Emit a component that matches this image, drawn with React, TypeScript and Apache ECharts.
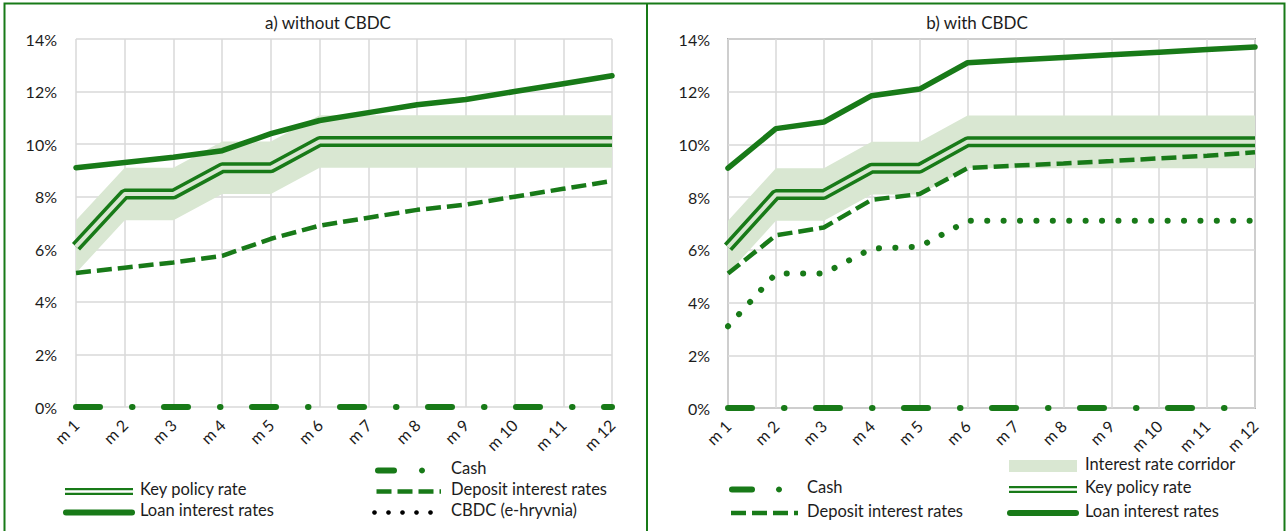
import React, { useEffect, useRef } from "react";
import * as echarts from "echarts";

const months = ["m 1", "m 2", "m 3", "m 4", "m 5", "m 6", "m 7", "m 8", "m 9", "m 10", "m 11", "m 12"];

// shared
const keyRate = [6.1, 8.1, 8.1, 9.1, 9.1, 10.1, 10.1, 10.1, 10.1, 10.1, 10.1, 10.1];
const corridorLow = [5.1, 7.1, 7.1, 8.1, 8.1, 9.1, 9.1, 9.1, 9.1, 9.1, 9.1, 9.1];
const corridorHigh = [7.1, 9.1, 9.1, 10.1, 10.1, 11.1, 11.1, 11.1, 11.1, 11.1, 11.1, 11.1];

// a) without CBDC
const loanA = [9.1, 9.3, 9.5, 9.75, 10.4, 10.9, 11.2, 11.5, 11.7, 12.0, 12.3, 12.6];
const depositA = [5.1, 5.3, 5.5, 5.75, 6.4, 6.9, 7.2, 7.5, 7.7, 8.0, 8.3, 8.6];
const cashA = [0, 0, 0, 0, 0, 0, 0, 0, 0, 0, 0, 0];

// b) with CBDC
const loanB = [9.1, 10.6, 10.85, 11.85, 12.1, 13.1, 13.2, 13.3, 13.4, 13.5, 13.6, 13.7];
const depositB = [5.1, 6.55, 6.85, 7.9, 8.12, 9.1, 9.2, 9.28, 9.37, 9.47, 9.57, 9.7];
const cbdcB = [3.1, 5.1, 5.1, 6.05, 6.12, 7.1, 7.1, 7.1, 7.1, 7.1, 7.1, 7.1];
const cashB = [0, 0, 0, 0, 0, 0, 0, 0, 0, 0, 0, 0];

const GREEN = "#187a18";
const CORR = "#d9e7d2";
const TEXT = "#1c1c1c";
const FONT = "Lato";
const LEG_FS = 16.5;

const CASH_DASH = [24, 32, 0.5, 31.5];
const DEP_DASH = [15, 6];
const DOT_DASH = [0.1, 16.3];

function panelSeries(idx: number, loan: number[], deposit: number[], cash: number[], cbdc: number[] | null) {
  const base = { xAxisIndex: idx, yAxisIndex: idx, type: "line", showSymbol: false, symbol: "none", silent: true };
  const band = corridorHigh.map((h, i) => +(h - corridorLow[i]).toFixed(4));
  const s: any[] = [
    { ...base, name: "corrBase" + idx, stack: "corr" + idx, data: corridorLow, lineStyle: { width: 0, opacity: 0 }, z: 1 },
    { ...base, name: "Interest rate corridor", stack: "corr" + idx, data: band, lineStyle: { width: 0, opacity: 0 }, areaStyle: { color: CORR, opacity: 1 }, z: 1 },
    { ...base, name: "Key policy rate", data: keyRate, lineStyle: { width: 11, color: GREEN }, z: 2 },
    { ...base, name: "keyInner" + idx, data: keyRate, lineStyle: { width: 4, color: CORR }, z: 3 },
    { ...base, name: "Loan interest rates", data: loan, lineStyle: { width: 5.5, color: GREEN, cap: "round" }, z: 4 },
    { ...base, name: "Deposit interest rates", data: deposit, lineStyle: { width: 4.5, color: GREEN, type: DEP_DASH }, z: 4 },
  ];
  if (cbdc) {
    s.push({ ...base, name: "CBDC (e-hryvnia)", data: cbdc, lineStyle: { width: 6, color: GREEN, type: DOT_DASH, cap: "round" }, z: 4 });
  }
  s.push({ ...base, name: "Cash", data: cash, lineStyle: { width: 6, color: GREEN, type: CASH_DASH, cap: "round" }, z: 5 });
  return s;
}

function legendText(x: number, y: number, text: string) {
  return { type: "text", left: x, top: y - 11, style: { text, x: 0, y: 0, fill: TEXT, font: `${LEG_FS}px ${FONT}`, textVerticalAlign: "top" }, silent: true };
}

function hline(x1: number, x2: number, y: number, style: any) {
  return { type: "line", shape: { x1, y1: y, x2, y2: y }, style: { stroke: GREEN, ...style }, silent: true };
}

function dot(x: number, y: number, r: number, fill: string) {
  return { type: "circle", shape: { cx: x, cy: y, r }, style: { fill }, silent: true };
}

function doubleLine(x1: number, x2: number, y: number) {
  return [hline(x1, x2, y, { lineWidth: 7 }), hline(x1, x2, y, { lineWidth: 2.5, stroke: "#ffffff" })];
}

export default function App() {
  const ref = useRef<HTMLDivElement>(null);
  useEffect(() => {
    document.body.style.margin = "0";
    const chart = echarts.init(ref.current!, null, { renderer: "svg" });
    const axisLabelY = { formatter: "{value}%", fontSize: 16, color: TEXT, fontFamily: FONT };
    const axisLabelX = { rotate: 45, fontSize: 16, color: TEXT, fontFamily: FONT, margin: 15, interval: 0 };
    const splitLine = { show: true, lineStyle: { color: "#d9d9d9", width: 1.5 } };

    const graphics: any[] = [
      { type: "rect", shape: { x: 4.5, y: 3.5, width: 1280, height: 540 }, style: { fill: "none", stroke: GREEN, lineWidth: 2 }, silent: true, z: 10 },
      { type: "line", shape: { x1: 647, y1: 3.5, x2: 647, y2: 540 }, style: { stroke: GREEN, lineWidth: 2 }, silent: true, z: 10 },
      // left legend
      hline(378, 394, 470.5, { lineWidth: 6, lineCap: "round" }),
      dot(422, 470.5, 3, GREEN),
      legendText(451, 470.5, "Cash"),
      ...doubleLine(65, 133, 491.5),
      legendText(140, 491.5, "Key policy rate"),
      hline(376.5, 441, 491.5, { lineWidth: 4.5, lineDash: DEP_DASH }),
      legendText(451, 491.5, "Deposit interest rates"),
      hline(66, 132, 512.5, { lineWidth: 6, lineCap: "round" }),
      legendText(140, 512.5, "Loan interest rates"),
      dot(374.5, 512.5, 2.3, "#000000"),
      dot(388.5, 512.5, 2.3, "#000000"),
      dot(402.5, 512.5, 2.3, "#000000"),
      dot(416.5, 512.5, 2.3, "#000000"),
      dot(430.5, 512.5, 2.3, "#000000"),
      legendText(451, 512.5, "CBDC (e-hryvnia)"),
      // right legend
      { type: "rect", shape: { x: 1009, y: 460, width: 68, height: 12 }, style: { fill: CORR }, silent: true },
      legendText(1085, 466, "Interest rate corridor"),
      hline(732, 752, 489.5, { lineWidth: 6, lineCap: "round" }),
      dot(779, 489.5, 3, GREEN),
      legendText(807, 489.5, "Cash"),
      ...doubleLine(1009, 1077, 489.5),
      legendText(1085, 489.5, "Key policy rate"),
      hline(731, 798, 513, { lineWidth: 4.5, lineDash: DEP_DASH }),
      legendText(807, 513, "Deposit interest rates"),
      hline(1010, 1076, 513, { lineWidth: 6, lineCap: "round" }),
      legendText(1085, 513, "Loan interest rates"),
    ];

    chart.setOption({
      animation: false,
      backgroundColor: "#ffffff",
      textStyle: { fontFamily: FONT },
      title: [
        { text: "a) without CBDC", left: 323, top: 9, textAlign: "center", textStyle: { fontSize: 17, fontWeight: "normal", color: TEXT, fontFamily: FONT } },
        { text: "b) with CBDC", left: 972, top: 9, textAlign: "center", textStyle: { fontSize: 17, fontWeight: "normal", color: TEXT, fontFamily: FONT } },
      ],
      grid: [
        { left: 76, top: 39, width: 536, height: 368, containLabel: false },
        { left: 728, top: 39, width: 527, height: 369, containLabel: false, show: true, borderColor: "#b0b0b0", borderWidth: 2, backgroundColor: "transparent" },
      ],
      xAxis: [0, 1].map((i) => ({
        type: "category",
        gridIndex: i,
        data: months,
        boundaryGap: false,
        axisLine: { show: false },
        axisTick: { show: false },
        axisLabel: axisLabelX,
        splitLine: { ...splitLine, interval: 0 },
      })),
      yAxis: [0, 1].map((i) => ({
        type: "value",
        gridIndex: i,
        min: 0,
        max: 14,
        interval: 2,
        axisLine: { show: false },
        axisTick: { show: false },
        axisLabel: { ...axisLabelY, margin: i === 0 ? 19 : 18 },
        splitLine,
      })),
      series: [...panelSeries(0, loanA, depositA, cashA, null), ...panelSeries(1, loanB, depositB, cashB, cbdcB)],
      graphic: graphics,
    });
    return () => chart.dispose();
  }, []);
  return <div ref={ref} style={{ position: "absolute", left: 0, top: 0, width: 1287, height: 531 }} />;
}
